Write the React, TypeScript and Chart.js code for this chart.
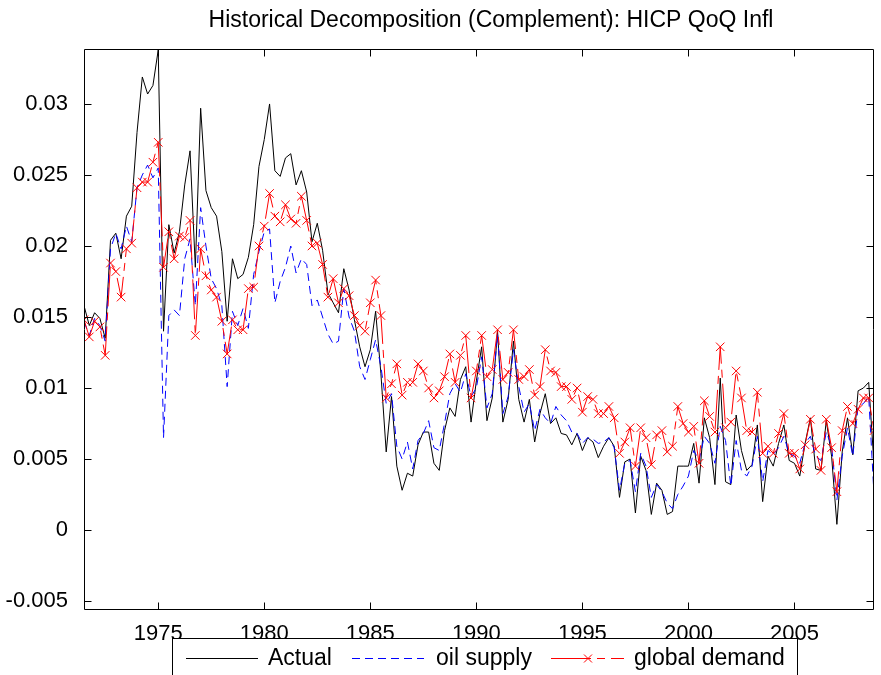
import React, { useEffect, useRef } from 'react';
import { Chart, registerables } from 'chart.js';

Chart.register(...registerables);

const TITLE = 'Historical Decomposition (Complement): HICP QoQ Infl';
const SERIES_LABELS = ['Actual', 'oil supply', 'global demand'];

const START_YEAR = 1971.5;
const QUARTER_STEP = 0.25;
const X_MIN = 1971.5;
const X_MAX = 2008.75;
const Y_MIN = -0.00563;
const Y_MAX = 0.03387;
const X_TICKS = [1975, 1980, 1985, 1990, 1995, 2000, 2005];
const Y_TICKS = [-0.005, 0, 0.005, 0.01, 0.015, 0.02, 0.025, 0.03];

const actual = [
  0.0158, 0.0144, 0.0153, 0.0149, 0.0135, 0.0204, 0.0209, 0.0191, 0.0221, 0.0228,
  0.0280, 0.0319, 0.0307, 0.0313, 0.0338, 0.0140, 0.0215, 0.0195, 0.0210, 0.0243,
  0.0267, 0.0185, 0.0297, 0.0239, 0.0227, 0.0221, 0.0196, 0.0147, 0.0191, 0.0177,
  0.0180, 0.0192, 0.0215, 0.0256, 0.0275, 0.0300, 0.0253, 0.0249, 0.0262, 0.0265,
  0.0243, 0.0253, 0.0238, 0.0203, 0.0216, 0.0197, 0.0167, 0.0160, 0.0153, 0.0184,
  0.0169, 0.0148, 0.0129, 0.0115, 0.0127, 0.0154, 0.0110, 0.0055, 0.0094, 0.0045,
  0.0028, 0.0040, 0.0038, 0.0060, 0.0069, 0.0069, 0.0047, 0.0042, 0.0070, 0.0086,
  0.0080, 0.0106, 0.0115, 0.0076, 0.0105, 0.0129, 0.0077, 0.0093, 0.0140, 0.0076,
  0.0092, 0.0133, 0.0092, 0.0076, 0.0092, 0.0062, 0.0082, 0.0096, 0.0075, 0.0079,
  0.0068, 0.0067, 0.0060, 0.0068, 0.0056, 0.0065, 0.0062, 0.0051, 0.0059, 0.0065,
  0.0059, 0.0023, 0.0048, 0.0050, 0.0012, 0.0052, 0.0042, 0.0011, 0.0033, 0.0028,
  0.0011, 0.0013, 0.0045, 0.0045, 0.0045, 0.0061, 0.0033, 0.0079, 0.0065, 0.0032,
  0.0107, 0.0034, 0.0032, 0.0081, 0.0056, 0.0042, 0.0046, 0.0074, 0.0020, 0.0052,
  0.0045, 0.0061, 0.0074, 0.0049, 0.0047, 0.0038, 0.0061, 0.0079, 0.0043, 0.0042,
  0.0077, 0.0052, 0.0004, 0.0055, 0.0079, 0.0053, 0.0098, 0.0100, 0.0104, 0.0046,
];

const oilSupply = [
  0.0147, 0.0137, 0.0149, 0.0144, 0.0133, 0.0198, 0.0209, 0.0198, 0.0214, 0.0203,
  0.0241, 0.0250, 0.0257, 0.0248, 0.0255, 0.0065, 0.0151, 0.0155, 0.0151, 0.0191,
  0.0205, 0.0158, 0.0227, 0.0200, 0.0177, 0.0170, 0.0158, 0.0101, 0.0154, 0.0144,
  0.0156, 0.0142, 0.0180, 0.0196, 0.0210, 0.0212, 0.0160, 0.0175, 0.0185, 0.0200,
  0.0181, 0.0191, 0.0187, 0.0158, 0.0162, 0.0150, 0.0138, 0.0131, 0.0133, 0.0170,
  0.0150, 0.0140, 0.0115, 0.0106, 0.0120, 0.0134, 0.0115, 0.0089, 0.0096, 0.0059,
  0.0050, 0.0062, 0.0043, 0.0063, 0.0068, 0.0077, 0.0058, 0.0056, 0.0075, 0.0096,
  0.0103, 0.0097, 0.0110, 0.0094, 0.0100, 0.0122, 0.0086, 0.0096, 0.0138, 0.0082,
  0.0094, 0.0127, 0.0101, 0.0083, 0.0089, 0.0070, 0.0085, 0.0079, 0.0075, 0.0087,
  0.0081, 0.0077, 0.0069, 0.0068, 0.0061, 0.0065, 0.0064, 0.0061, 0.0062, 0.0065,
  0.0058, 0.0028, 0.0047, 0.0049, 0.0027, 0.0054, 0.0045, 0.0023, 0.0032, 0.0027,
  0.0019, 0.0015, 0.0025, 0.0031, 0.0038, 0.0056, 0.0049, 0.0066, 0.0061, 0.0047,
  0.0073, 0.0063, 0.0031, 0.0063, 0.0042, 0.0038, 0.0045, 0.0066, 0.0034, 0.0056,
  0.0053, 0.0058, 0.0066, 0.0054, 0.0052, 0.0047, 0.0061, 0.0066, 0.0052, 0.0049,
  0.0069, 0.0059, 0.0021, 0.0052, 0.0072, 0.0052, 0.0087, 0.0089, 0.0094, 0.0025,
];

const globalDemand = [
  0.0148, 0.0136, 0.0147, 0.0143, 0.0123, 0.0188, 0.0182, 0.0164, 0.0198, 0.0202,
  0.0241, 0.0245, 0.0245, 0.0259, 0.0273, 0.0185, 0.0210, 0.0191, 0.0207, 0.0206,
  0.0218, 0.0137, 0.0198, 0.0179, 0.0169, 0.0164, 0.0147, 0.0124, 0.0148, 0.0141,
  0.0141, 0.0170, 0.0171, 0.0200, 0.0214, 0.0237, 0.0221, 0.0217, 0.0229, 0.0219,
  0.0216, 0.0235, 0.0218, 0.0200, 0.0202, 0.0187, 0.0164, 0.0177, 0.0160, 0.0170,
  0.0165, 0.0151, 0.0144, 0.0140, 0.0160, 0.0176, 0.0151, 0.0093, 0.0103, 0.0117,
  0.0095, 0.0104, 0.0104, 0.0117, 0.0112, 0.0100, 0.0093, 0.0098, 0.0108, 0.0124,
  0.0104, 0.0123, 0.0137, 0.0093, 0.0112, 0.0137, 0.0108, 0.0113, 0.0141, 0.0106,
  0.0111, 0.0141, 0.0106, 0.0108, 0.0113, 0.0095, 0.0101, 0.0127, 0.0112, 0.0111,
  0.0101, 0.0101, 0.0092, 0.0100, 0.0083, 0.0094, 0.0092, 0.0082, 0.0082, 0.0087,
  0.0079, 0.0054, 0.0062, 0.0072, 0.0045, 0.0072, 0.0065, 0.0046, 0.0067, 0.0070,
  0.0055, 0.0059, 0.0087, 0.0075, 0.0069, 0.0073, 0.0047, 0.0091, 0.0080, 0.0069,
  0.0129, 0.0072, 0.0076, 0.0112, 0.0093, 0.0070, 0.0069, 0.0097, 0.0054, 0.0059,
  0.0054, 0.0068, 0.0082, 0.0054, 0.0054, 0.0043, 0.0060, 0.0078, 0.0057, 0.0042,
  0.0078, 0.0058, 0.0027, 0.0070, 0.0087, 0.0075, 0.0085, 0.0093, 0.0093, 0.0070,
];

const quarters = actual.map((_, i) => START_YEAR + i * QUARTER_STEP);

const FONT = '"Liberation Sans", Arial, Helvetica, sans-serif';
const BLUE_DASH = [8, 5];
const RED_DASH = [40, 6, 8, 6];

const toPoints = (vals: number[]) => vals.map((v, i) => ({ x: quarters[i], y: v }));

const fmtY = (v: number) => String(Number(v.toFixed(4)));

const matlabFrame = {
  id: 'matlabFrame',
  afterDraw(chart: any) {
    const { ctx, chartArea: a, scales } = chart;
    ctx.save();
    ctx.strokeStyle = '#000';
    ctx.lineWidth = 1;
    ctx.setLineDash([]);
    const L = Math.round(a.left) + 0.5;
    const R = Math.round(a.right) - 0.5;
    const T = Math.round(a.top) + 0.5;
    const B = Math.round(a.bottom) - 0.5;
    ctx.beginPath();
    ctx.rect(L, T, R - L, B - T);
    const TL = 7;
    scales.x.ticks.forEach((t: any) => {
      const px = Math.round(scales.x.getPixelForValue(t.value)) + 0.5;
      ctx.moveTo(px, B);
      ctx.lineTo(px, B - TL);
      ctx.moveTo(px, T);
      ctx.lineTo(px, T + TL);
    });
    scales.y.ticks.forEach((t: any) => {
      const py = Math.round(scales.y.getPixelForValue(t.value)) + 0.5;
      ctx.moveTo(L, py);
      ctx.lineTo(L + TL, py);
      ctx.moveTo(R, py);
      ctx.lineTo(R - TL, py);
    });
    ctx.stroke();

    // title
    ctx.fillStyle = '#000';
    ctx.font = `23px ${FONT}`;
    ctx.textAlign = 'center';
    ctx.textBaseline = 'middle';
    ctx.fillText(TITLE, (a.left + a.right) / 2 + 12, 21);

    // legend
    const bx = 172.5, by = 638.5, bw = 625, bh = 60;
    ctx.fillStyle = '#fff';
    ctx.fillRect(bx, by, bw, bh);
    ctx.strokeStyle = '#000';
    ctx.strokeRect(bx, by, bw, bh);
    const ly = 658.5;
    const items = [
      { x0: 186, x1: 258, tx: 268 },
      { x0: 352, x1: 424, tx: 436 },
      { x0: 551, x1: 624, tx: 634 },
    ];
    chart.data.datasets.forEach((ds: any, i: number) => {
      const it = items[i];
      ctx.strokeStyle = ds.borderColor;
      ctx.lineWidth = 1;
      ctx.setLineDash(ds.borderDash || []);
      ctx.beginPath();
      ctx.moveTo(it.x0, ly);
      ctx.lineTo(it.x1, ly);
      ctx.stroke();
      ctx.setLineDash([]);
      if (ds.pointStyle === 'crossRot') {
        const cx = (it.x0 + it.x1) / 2 + 0.5;
        const r = 4;
        ctx.beginPath();
        ctx.moveTo(cx - r, ly - r);
        ctx.lineTo(cx + r, ly + r);
        ctx.moveTo(cx - r, ly + r);
        ctx.lineTo(cx + r, ly - r);
        ctx.stroke();
      }
      ctx.fillStyle = '#000';
      ctx.font = `23px ${FONT}`;
      ctx.textAlign = 'left';
      ctx.textBaseline = 'middle';
      ctx.fillText(ds.label, it.tx, ly);
    });
    ctx.restore();
  },
};

export default function App() {
  const ref = useRef<HTMLCanvasElement | null>(null);

  useEffect(() => {
    if (!ref.current) return;
    const chart = new Chart(ref.current, {
      type: 'line',
      data: {
        datasets: [
          {
            label: SERIES_LABELS[0],
            data: toPoints(actual),
            borderColor: '#000000',
            borderWidth: 1,
            pointRadius: 0,
            tension: 0,
            fill: false,
            order: 2,
          },
          {
            label: SERIES_LABELS[1],
            data: toPoints(oilSupply),
            borderColor: '#0000ff',
            borderWidth: 1,
            borderDash: BLUE_DASH,
            pointRadius: 0,
            tension: 0,
            fill: false,
            order: 1,
          },
          {
            label: SERIES_LABELS[2],
            data: toPoints(globalDemand),
            borderColor: '#ff0000',
            borderWidth: 1,
            borderDash: RED_DASH,
            pointStyle: 'crossRot',
            pointRadius: 6,
            pointBorderColor: '#ff0000',
            pointBackgroundColor: '#ff0000',
            pointBorderWidth: 1,
            pointHoverRadius: 6,
            tension: 0,
            fill: false,
            order: 0,
          },
        ] as any,
      },
      options: {
        animation: false,
        responsive: false,
        events: [],
        layout: { padding: { top: 49, right: 1, left: 0, bottom: 0 } },
        plugins: {
          legend: { display: false },
          title: { display: false },
          tooltip: { enabled: false },
        },
        scales: {
          x: {
            type: 'linear',
            min: X_MIN,
            max: X_MAX,
            grid: { display: false },
            border: { display: false },
            ticks: {
              color: '#000',
              font: { family: FONT, size: 22 },
              padding: 3,
              maxRotation: 0,
              autoSkip: false,
              callback: (v: any) => String(v),
            },
            afterBuildTicks: (s: any) => {
              s.ticks = X_TICKS.map((v) => ({ value: v }));
            },
            afterFit: (s: any) => {
              s.height = 65;
            },
          },
          y: {
            type: 'linear',
            min: Y_MIN,
            max: Y_MAX,
            grid: { display: false },
            border: { display: false },
            ticks: {
              color: '#000',
              font: { family: FONT, size: 22 },
              padding: 8,
              autoSkip: false,
              callback: (v: any) => fmtY(Number(v)),
            },
            afterBuildTicks: (s: any) => {
              s.ticks = Y_TICKS.map((v) => ({ value: v }));
            },
            afterFit: (s: any) => {
              s.width = 84;
            },
          },
        },
      } as any,
      plugins: [matlabFrame],
    });
    return () => chart.destroy();
  }, []);

  return (
    <div style={{ position: 'absolute', left: 0, top: 0, width: 881, height: 675, overflow: 'hidden', background: '#fff' }}>
      <canvas ref={ref} width={881} height={675} style={{ display: 'block', width: 881, height: 675 }} />
    </div>
  );
}
